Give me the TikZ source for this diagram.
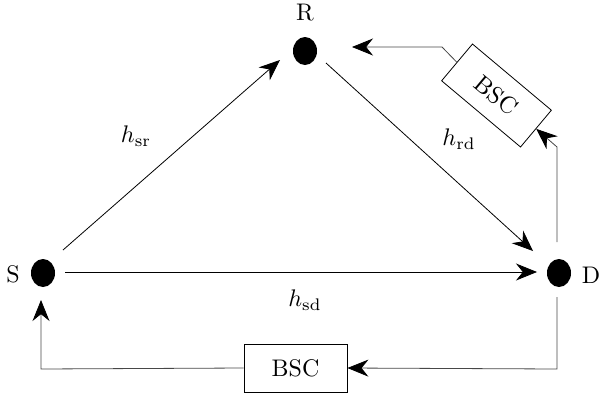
\documentclass[tikz,border=0pt]{standalone}
\usepackage{graphicx}
\usetikzlibrary{arrows.meta,calc,shapes.geometric}
\begin{document}
\begin{tikzpicture}[x=1pt,y=-1pt,
  dot/.style={ellipse, fill=black, minimum width=24pt, minimum height=28pt, inner sep=0pt},
  lbl/.style={inner sep=0pt, scale=2.4},
  arr/.style={-{Stealth[length=21pt,width=17pt,black]}, line width=0.8pt},
  fb/.style={line width=0.8pt, draw=black!72},
  box/.style={draw, line width=0.8pt, minimum width=103pt, minimum height=48pt, inner sep=0pt}]
\useasboundingbox (0,0) rectangle (600,402);
% nodes
\node[dot] (S) at (43,273) {};
\node[dot] (R) at (305,51) {};
\node[dot] (D) at (559,273) {};
\node[lbl] (Sl) at (13,274) {S};
\node[lbl] (Rl) at (305,12.5) {R};
\node[lbl] (Dl) at (591,275.5) {D};
\node[lbl] (hsr) at (136,136) {$h_{\mathrm{sr}}$};
\node[lbl] (hrd) at (459,139) {$h_{\mathrm{rd}}$};
\node[lbl] (hsd) at (305,300) {$h_{\mathrm{sd}}$};
\node[box, rotate=-40] (B1) at (496.5,95.5) {\scalebox{2.4}{BSC}};
\node[box] (B2) at (295.5,368) {\scalebox{2.4}{BSC}};
% coordinates
\coordinate (c1) at (557,147);
\coordinate (c2) at (442,47);
\coordinate (c3) at (557,369);
\coordinate (c4) at (41,369);
% main links
\draw[arr] ($(S)+(20,-23)$) -- ($(R)+(-25,9)$);
\draw[arr] ($(R)+(21,12)$) -- ($(D)+(-26,-22)$);
\draw[arr] ($(S)+(22,-1)$) -- ($(D)+(-22,-1)$);
% feedback
\draw[arr,fb] ($(D)+(-2,-31)$) -- (c1) -- (B1.east);
\draw[arr,fb] (B1.west) -- (c2) -- ($(R)+(47,-4)$);
\draw[arr,fb] ($(D)+(-2,24)$) -- (c3) -- (B2.east);
\draw[arr,fb] (B2.west) -- (c4) -- ($(S)+(-2,27)$);
\end{tikzpicture}
\end{document}
